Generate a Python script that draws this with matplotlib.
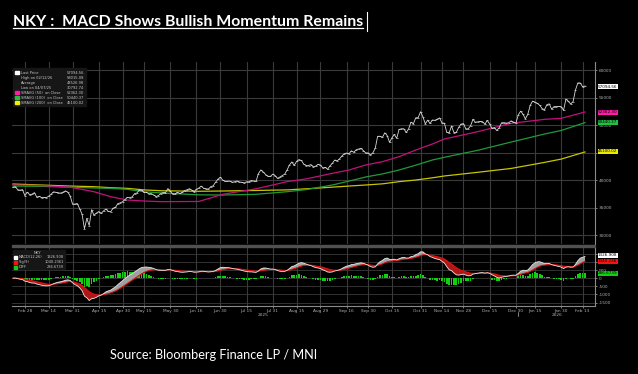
import numpy as np
import pandas as pd
import matplotlib
matplotlib.use('Agg')
import matplotlib.pyplot as plt
from matplotlib.lines import Line2D
from matplotlib.patches import Rectangle

# --- data ---
jp_holidays = ['2025-02-24', '2025-03-20', '2025-04-29', '2025-05-05', '2025-05-06',
               '2025-07-21', '2025-08-11', '2025-09-15', '2025-09-23', '2025-10-13',
               '2025-11-03', '2025-11-24', '2025-12-31', '2026-01-01', '2026-01-02',
               '2026-01-12', '2026-02-11']

close = [38678, 38776, 38237, 38142, 38256, 37155, 37785, 37331, 37418, 37704,
         36887, 37028, 36793, 36819, 36790, 37053, 37396, 37845, 37751, 37677,
         37608, 37780, 38027, 37799, 37120, 35617, 35624, 35725, 34736, 33781,
         31136, 33012, 31714, 34609, 33586, 33982, 34267, 33920, 34377, 34730,
         34280, 34220, 34869, 35039, 35705, 35840, 36045, 36452, 36831, 36780,
         36929, 37503, 37644, 38183, 38128, 37755, 37753, 37499, 37529, 37299,
         36986, 37160, 37532, 37724, 37723, 38433, 37965, 37470, 37446, 37747,
         37554, 37742, 38089, 38212, 38421, 38173, 37834, 38311, 38537, 38885,
         38489, 38403, 38355, 38791, 38943, 39585, 40151, 40487, 39986, 39762,
         39786, 39811, 39588, 39688, 39821, 39646, 39570, 39460, 39679, 39663,
         39901, 39819, 39775, 41171, 41826, 41456, 40998, 40675, 40654, 41069,
         40800, 40291, 40550, 40794, 41059, 41820, 42718, 43275, 42649, 43378,
         43714, 43546, 42889, 42610, 42633, 42807, 42394, 42520, 42829, 42718,
         42188, 42310, 41939, 42580, 43019, 43644, 43460, 43838, 44373, 44768,
         44903, 44790, 45303, 45046, 45494, 45630, 45755, 45355, 44914, 44933,
         44550, 44937, 45770, 47945, 47951, 47735, 48580, 48089, 46847, 47673,
         48278, 47582, 49186, 49316, 49308, 48642, 49300, 50512, 50220, 51308,
         51326, 52411, 51498, 50212, 50884, 50276, 50912, 50843, 51063, 51282,
         50377, 50324, 48703, 48538, 49824, 48626, 48660, 49560, 50168, 50254,
         49303, 49303, 49865, 51029, 50492, 50582, 50656, 50603, 50149, 50837,
         50168, 49383, 49512, 49001, 49507, 50402, 50413, 50345, 50408, 50750,
         50527, 50339, 51833, 52518, 51962, 51117, 51940, 53550, 54341, 54110,
         53936, 53584, 52991, 52775, 53689, 53847, 52885, 53333, 53358, 53376,
         53323, 52655, 54721, 54293, 53818, 54254, 56364, 57651, 57640, 56942,
         57095]

sma_dates = ['2025-02-20', '2025-03-10', '2025-03-28', '2025-04-11', '2025-04-22',
             '2025-05-02', '2025-05-15', '2025-05-26', '2025-06-17', '2025-07-01',
             '2025-07-22', '2025-08-08', '2025-08-21', '2025-09-05', '2025-09-17',
             '2025-09-29', '2025-10-08', '2025-10-20', '2025-10-29', '2025-11-10',
             '2025-11-17', '2025-12-08', '2025-12-26', '2026-01-21', '2026-01-30',
             '2026-02-16']
sma50 = [39090, 39000, 38700, 37870, 36960, 36360, 36180, 36060, 36100, 37400,
         38400, 39700, 40200, 41210, 41820, 42730, 43330, 44240, 45450, 46550,
         47450, 48790, 50300, 51030, 51210, 52362]
sma100 = [38900, 38850, 38700, 38550, 38480, 38300, 37870, 37650, 37300, 37270,
          37400, 37870, 38250, 39090, 39800, 40550, 41100, 41820, 42700, 43640,
          44130, 45400, 46900, 48360, 49000, 50440]
sma200 = [39270, 39100, 38900, 38780, 38600, 38480, 38200, 38050, 37950, 38000,
          38100, 38200, 38400, 38700, 38900, 39090, 39300, 39700, 40000, 40400,
          40730, 41400, 42100, 43200, 43800, 45100]

tick_dates = ['2025-02-28', '2025-03-14', '2025-03-31', '2025-04-15', '2025-04-30',
              '2025-05-15', '2025-05-30', '2025-06-16', '2025-06-30', '2025-07-15',
              '2025-07-31', '2025-08-15', '2025-08-29', '2025-09-16', '2025-09-30',
              '2025-10-15', '2025-10-31', '2025-11-14', '2025-11-28', '2025-12-15',
              '2025-12-30', '2026-01-15', '2026-01-30', '2026-02-13']

legend_rows = [('Last Price', '57094.56', 'white'),
               ('High on 02/12/26', '58015.08', None),
               ('Average', '43526.98', None),
               ('Low on 04/07/25', '30792.74', None),
               ('SMAVG (50)  on Close', '52362.30', '#ff1aa8'),
               ('SMAVG (100)  on Close', '50440.37', '#22c040'),
               ('SMAVG (200)  on Close', '45100.02', '#f0f000')]

# --- layout helpers (pixel -> figure fraction) ---
W, H = 638, 374
def fx(px): return px / W
def fy(py): return 1 - py / H

dates = pd.bdate_range('2025-02-20', '2026-02-16', freq='C', holidays=jp_holidays)
x = np.arange(len(dates))
s = pd.Series(close, dtype=float)
ema12 = s.ewm(span=12, adjust=False).mean()
ema26 = s.ewm(span=26, adjust=False).mean()
macd = ema12 - ema26
sig = macd.ewm(span=9, adjust=False).mean()
diff = macd - sig

sx = dates.get_indexer(pd.to_datetime(sma_dates))
tx = dates.get_indexer(pd.to_datetime(tick_dates))

fig = plt.figure(figsize=(6.38, 3.74), dpi=100, facecolor='black')
ax = fig.add_axes([fx(12), fy(244), fx(595) - fx(12), fy(62) - fy(244)])
ax2 = fig.add_axes([fx(12), fy(306), fx(595) - fx(12), fy(248) - fy(306)])
grid_c = '#3a3a3a'
tick_c = '#b0b0b0'

for a in (ax, ax2):
    a.set_facecolor('black')
    a.set_xlim(-0.4, 244.2)
    for sp in a.spines.values():
        sp.set_visible(False)
    a.spines['right'].set_visible(True)
    a.spines['right'].set_color('#8a8a8a')
    a.yaxis.tick_right()
    a.tick_params(axis='y', colors=tick_c, labelsize=3.1, length=1.5, width=0.5, pad=1)
    for t in tx:
        a.axvline(t, color=grid_c, lw=0.8, zorder=0)

# main panel
ax.set_ylim(28364, 61455)
ax.set_yticks(range(30000, 60001, 5000))
ax.set_yticklabels(['30000', '35000', '40000', '', '50000', '55000', '60000'])
for lv in range(30000, 60001, 5000):
    ax.axhline(lv, color=grid_c, lw=0.8, zorder=0)
ax.set_xticks([])
ax.plot(sx, sma200, color='#c8c400', lw=0.9, zorder=2)
ax.plot(sx, sma100, color='#1e9a3c', lw=0.9, zorder=2)
ax.plot(sx, sma50, color='#c0127a', lw=0.9, zorder=2)
ax.plot(x, close, color='#d8d8d8', lw=0.6, marker='_', ms=1.2, mew=0.5, zorder=3)

# MACD panel
ax2.set_ylim(-1715, 1860)
ax2.set_yticks(range(-1500, 1501, 500))
ax2.set_yticklabels(['-1500', '-1000', '-500', '0', '500', '', ''])
for lv in range(-1500, 1501, 500):
    ax2.axhline(lv, color=grid_c, lw=0.6, zorder=0)
ax2.bar(x, diff, width=0.7, color='#10d010', zorder=1)
ax2.fill_between(x, macd, sig, where=macd >= sig, color='#a0a0a0', lw=0, zorder=2, interpolate=True)
ax2.fill_between(x, macd, sig, where=macd < sig, color='#b01818', lw=0, zorder=2, interpolate=True)
ax2.plot(x, sig, color='#e01010', lw=0.8, zorder=3)
ax2.plot(x, macd, color='#e8e8e8', lw=0.6, zorder=3)
ax2.spines['bottom'].set_visible(True)
ax2.spines['bottom'].set_color('#8a8a8a')
ax2.set_xticks(tx)
ax2.set_xticklabels([d.strftime('%b %d').replace(' 0', ' ') for d in pd.to_datetime(tick_dates)])
ax2.tick_params(axis='x', colors=tick_c, labelsize=3.1, length=1.5, width=0.5, pad=0.8)
fig.patches.append(Rectangle((fx(12), fy(247)), fx(595) - fx(12), 2 / H,
                             transform=fig.transFigure, color='#505050'))

fig.text(fx(263), fy(315.5), '2025', color=tick_c, fontsize=3.1, ha='center', va='center')
fig.text(fx(557), fy(315.5), '2026', color=tick_c, fontsize=3.1, ha='center', va='center')
fig.add_artist(Line2D([fx(517.7), fx(517.7)], [fy(312), fy(316)], color=tick_c, lw=0.5))

# legend box main
fig.patches.append(Rectangle((fx(13), fy(106)), fx(86) - fx(13), 38 / H,
                             transform=fig.transFigure, color='#161616', zorder=5))
for k, (lab, val, col) in enumerate(legend_rows):
    yy = 72.7 + k * 5
    if col:
        fig.patches.append(Rectangle((fx(15.5), fy(yy + 1.7)), 3.4 / W, 3.4 / H,
                                     transform=fig.transFigure, color=col, zorder=6))
    fig.text(fx(21), fy(yy), lab, color='#c8c8c8', fontsize=2.6, va='center', zorder=7)
    fig.text(fx(84), fy(yy), val, color='#c8c8c8', fontsize=2.6, va='center', ha='right', zorder=7)

# legend box MACD
fig.patches.append(Rectangle((fx(13), fy(269)), fx(65) - fx(13), 19 / H,
                             transform=fig.transFigure, color='#161616', zorder=5))
fig.text(fx(37), fy(252.5), 'NKY', color='#c8c8c8', fontsize=2.8, va='center', ha='center', zorder=7)
macd_rows = [('MACD(12,26)', '1326.908', 'white'), ('Sig(9)', '1040.2361', '#ff1010'),
             ('DIFF', '286.6739', '#10d010')]
for k, (lab, val, col) in enumerate(macd_rows):
    yy = 257.3 + k * 5
    fig.patches.append(Rectangle((fx(13.5), fy(yy + 1.7)), 3.4 / W, 3.4 / H,
                                 transform=fig.transFigure, color=col, zorder=6))
    fig.text(fx(19), fy(yy), lab, color='#c8c8c8', fontsize=2.6, va='center', zorder=7)
    fig.text(fx(64), fy(yy), val, color='#c8c8c8', fontsize=2.6, va='center', ha='right', zorder=7)

# right side value flags
flags = [(86.7, '57094.56', 'white'), (112, '52362.30', '#ff1aa8'),
         (122, '50440.37', '#22c040'), (151.5, '45100.02', '#e8e800'),
         (255.5, '1326.908', 'white'), (261.5, '1040.236', '#ff1010'),
         (273.3, '286.6739', '#10d010')]
for yy, txt, col in flags:
    fig.text(fx(598), fy(yy), txt, color='black', fontsize=3.0, va='center', ha='left',
             bbox=dict(boxstyle='square,pad=0.12', fc=col, ec='none'), zorder=8)

# title with underline and cursor bar
title = fig.text(fx(13), fy(25.5), 'NKY :  MACD Shows Bullish Momentum Remains', color='white',
                 fontsize=11.4, fontweight='bold', family='Lato', va='baseline', ha='left')
fig.canvas.draw()
bb = title.get_window_extent().transformed(fig.transFigure.inverted())
fig.add_artist(Line2D([fx(13), bb.x1], [fy(28), fy(28)], color='white', lw=0.9))
fig.add_artist(Line2D([bb.x1 + fx(4), bb.x1 + fx(4)], [fy(12), fy(31)], color='white', lw=0.8))

fig.text(fx(110), fy(355), 'Source: Bloomberg Finance LP / MNI', color='white', fontsize=9.2,
         family='Lato', va='center', ha='left')

fig.savefig('out.png', dpi=100, facecolor='black')
